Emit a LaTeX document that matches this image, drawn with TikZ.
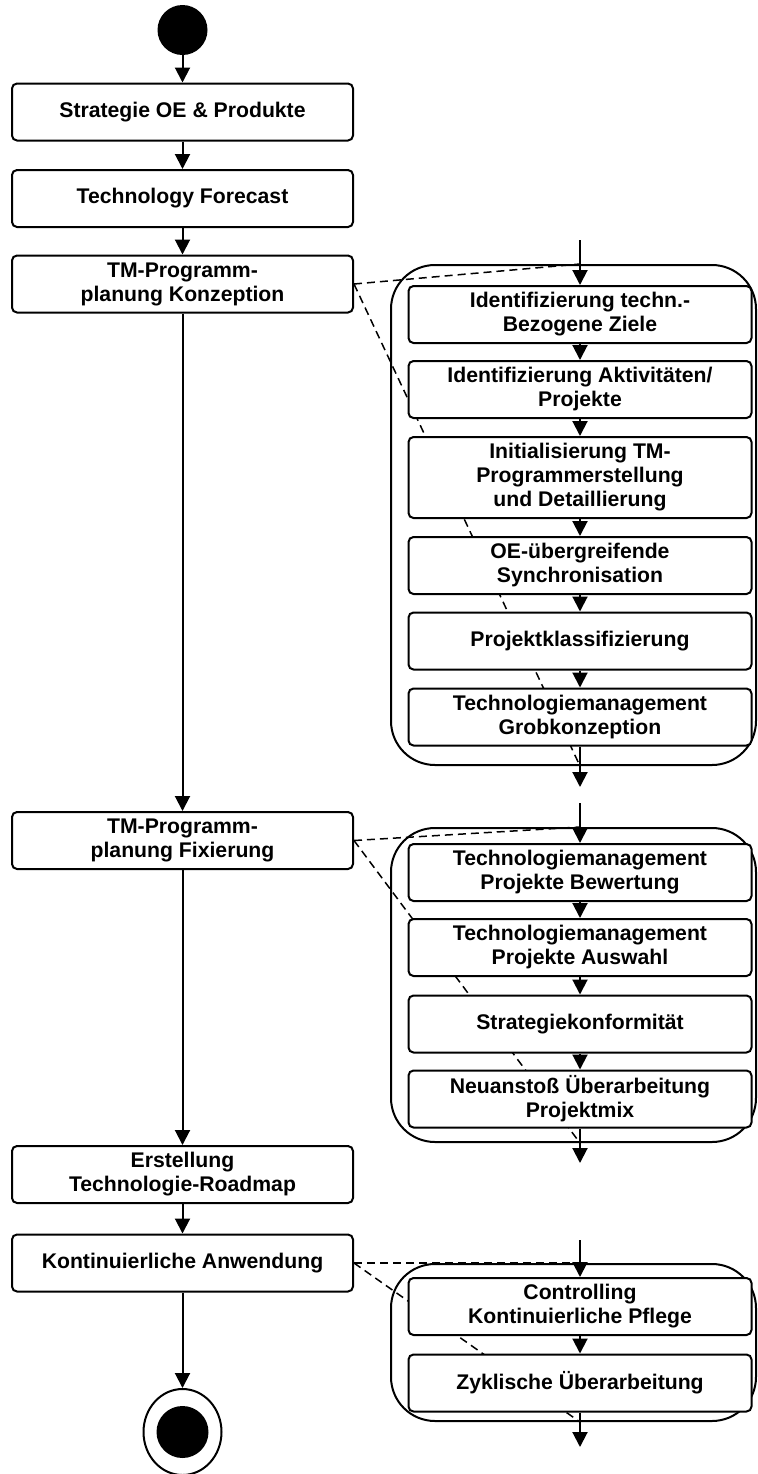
\documentclass[tikz,border=0pt]{standalone}
\usepackage{fontspec}
\setmainfont{Liberation Sans}
\usepackage{tikz}
\usetikzlibrary{shapes, arrows.meta, positioning, calc}

\begin{document}
\begin{tikzpicture}[
        x=0.5pt, y=-0.5pt,
        act/.style={rectangle, rounded corners=2.5pt, draw, line width=1pt, fill=white,
            minimum width=170.5pt, minimum height=28.5pt, inner sep=0pt, align=center,
            font=\bfseries\fontsize{10.6}{12}\selectfont},
        sub/.style={act, minimum width=171.5pt},
        grp/.style={rectangle, rounded corners=22pt, draw, line width=1pt,
            minimum width=182.5pt},
        flow/.style={-{Triangle[width=7.5pt, length=7.5pt]}, line width=1pt},
        link/.style={dashed, line width=0.75pt, dash pattern=on 4pt off 2.5pt}
    ]
        \useasboundingbox (0,0) rectangle (757,1474);

        % main flow
        \node[circle, fill=black, minimum size=25pt, inner sep=0pt] (start) at (182.5,30) {};
        \node[act] (strat) at (182.5,112) {Strategie OE \& Produkte};
        \node[act] (fcast) at (182.5,198.5) {Technology Forecast};
        \node[act] (konz) at (182.5,284) {TM-Programm-\\planung Konzeption};
        \node[act] (fix) at (182.5,840.5) {TM-Programm-\\planung Fixierung};
        \node[act] (road) at (182.5,1174.5) {Erstellung\\Technologie-Roadmap};
        \node[act] (anw) at (182.5,1263) {Kontinuierliche Anwendung};
        \node[ellipse, draw, line width=1pt, minimum width=39pt, minimum height=43pt, inner sep=0pt] (stop) at (182.5,1432) {};
        \node[circle, fill=black, minimum size=26pt, inner sep=0pt] (stopdot) at (stop) {};

        \draw[flow] (start) -- (strat);
        \draw[flow] (strat) -- (fcast);
        \draw[flow] (fcast) -- (konz);
        \draw[flow] (konz) -- (fix);
        \draw[flow] (fix) -- (road);
        \draw[flow] (road) -- (anw);
        \draw[flow] (anw) -- (stop);

        % refinement frames
        \node[grp, minimum height=250pt] (grp1) at (573.5,515) {};
        \node[grp, minimum height=157pt] (grp2) at (573.5,985) {};
        \node[grp, minimum height=78.5pt] (grp3) at (573.5,1342.5) {};

        \coordinate (in1) at (580,240);
        \coordinate (out1) at (580,787);
        \coordinate (in2) at (580,803);
        \coordinate (out2) at (580,1163);
        \coordinate (in3) at (580,1240);
        \coordinate (out3) at (580,1447);

        \draw[link] (konz.east) -- (grp1.north -| in1);
        \draw[link] (konz.east) -- (grp1.south -| in1);
        \draw[link] (fix.east) -- (grp2.north -| in2);
        \draw[link] (fix.east) -- (grp2.south -| in2);
        \draw[link] (anw.east) -- (grp3.north -| in3);
        \draw[link] (anw.east) -- (grp3.south -| in3);

        % Konzeption
        \node[sub] (ziele) at (580,314.5) {Identifizierung techn.-\\Bezogene Ziele};
        \node[sub] (aktiv) at (580,389.5) {Identifizierung Aktivitäten/\\Projekte};
        \node[sub, minimum height=40.5pt] (init) at (580,477.5) {Initialisierung TM-\\Programmerstellung\\und Detaillierung};
        \node[sub] (sync) at (580,565.5) {OE-übergreifende\\Synchronisation};
        \node[sub] (klass) at (580,641) {Projektklassifizierung};
        \node[sub] (grob) at (580,717) {Technologiemanagement\\Grobkonzeption};

        \draw[flow] (in1) -- (ziele);
        \draw[flow] (ziele) -- (aktiv);
        \draw[flow] (aktiv) -- (init);
        \draw[flow] (init) -- (sync);
        \draw[flow] (sync) -- (klass);
        \draw[flow] (klass) -- (grob);
        \draw[flow] (grob) -- (out1);

        % Fixierung
        \node[sub] (bewert) at (580,872.5) {Technologiemanagement\\Projekte Bewertung};
        \node[sub] (auswahl) at (580,947.5) {Technologiemanagement\\Projekte Auswahl};
        \node[sub] (konform) at (580,1024) {Strategiekonformität};
        \node[sub] (mix) at (580,1099) {Neuanstoß Überarbeitung\\Projektmix};

        \draw[flow] (in2) -- (bewert);
        \draw[flow] (bewert) -- (auswahl);
        \draw[flow] (auswahl) -- (konform);
        \draw[flow] (konform) -- (mix);
        \draw[flow] (mix) -- (out2);

        % Anwendung
        \node[sub] (pflege) at (580,1306.5) {Controlling\\Kontinuierliche Pflege};
        \node[sub] (zykl) at (580,1383) {Zyklische Überarbeitung};

        \draw[flow] (in3) -- (pflege);
        \draw[flow] (pflege) -- (zykl);
        \draw[flow] (zykl) -- (out3);

    \end{tikzpicture}
\end{document}
